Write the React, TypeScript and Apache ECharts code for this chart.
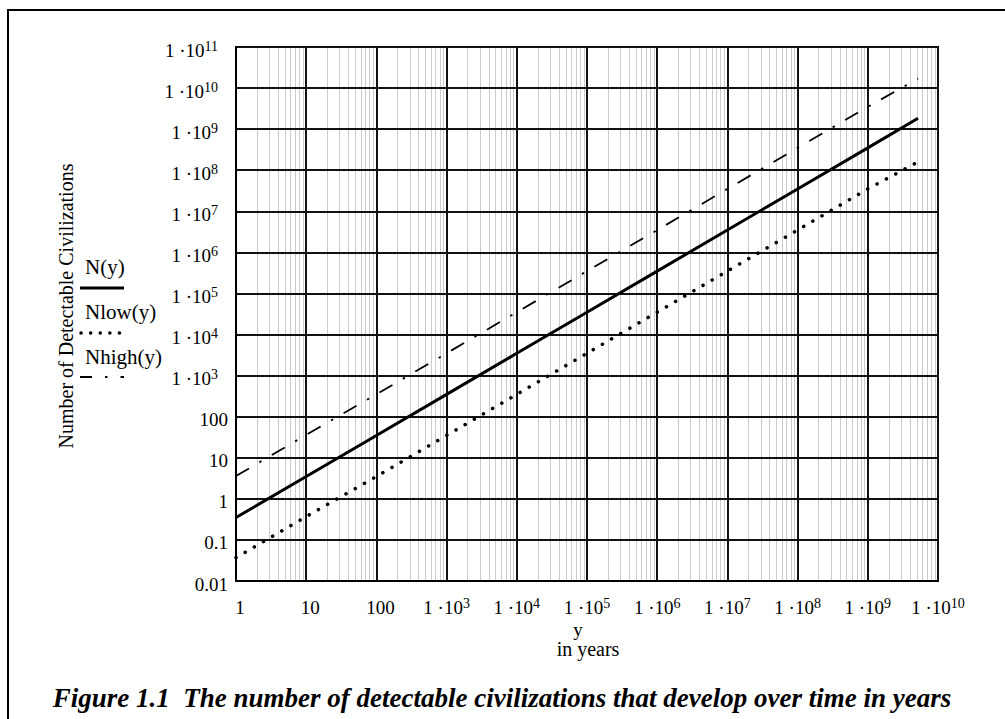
import React, { useEffect, useRef } from "react";
import * as echarts from "echarts";

// ---- data ----
const years = [1, 10, 100, 1e3, 1e4, 1e5, 1e6, 1e7, 1e8, 1e9, 5.2e9];
const nMid = [0.35, 3.5, 35, 350, 3.5e3, 3.5e4, 3.5e5, 3.5e6, 3.5e7, 3.5e8, 1.85e9];
const nLow = [0.037, 0.37, 3.5, 35, 350, 3.5e3, 3.5e4, 3.5e5, 3.5e6, 3.5e7, 1.6e8];
const nHigh = [3.6, 36, 350, 3.5e3, 3.5e4, 3.5e5, 3.5e6, 3.5e7, 3.5e8, 3.5e9, 1.7e10];

const xTickLabels = ["1", "10", "100", "1 ·10^3", "1 ·10^4", "1 ·10^5", "1 ·10^6", "1 ·10^7", "1 ·10^8", "1 ·10^9", "1 ·10^10"];
const yTickLabels = ["0.01", "0.1", "1", "10", "100", "1 ·10^3", "1 ·10^4", "1 ·10^5", "1 ·10^6", "1 ·10^7", "1 ·10^8", "1 ·10^9", "1 ·10^10", "1 ·10^11"];

const seriesNames = ["N(y)", "Nlow(y)", "Nhigh(y)"];
const yTitle = "Number of Detectable Civilizations";
const xTitle = "y";
const xSubTitle = "in years";
const caption = "Figure 1.1  The number of detectable civilizations that develop over time in years";

const FONT = "'Liberation Serif', 'Times New Roman', serif";

function pair(xs: number[], ys: number[]) {
  return xs.map((x, i) => [x, ys[i]]);
}

function labelFor(list: string[], idx: number, b: string, p: string, s: string) {
  const t = list[idx];
  if (t === undefined) return "";
  const parts = t.split("^");
  if (parts.length === 1) return `{${p}|${parts[0]}}`;
  return `{${b}|${parts[0]}}{${s}|${parts[1]}}`;
}

// minor grid positions (2..9 within each decade of the x axis)
const minorX: number[] = [];
for (let d = 0; d < 10; d++) {
  for (let m = 2; m <= 9; m++) minorX.push(m * Math.pow(10, d));
}

export default function App() {
  const ref = useRef<HTMLDivElement>(null);
  useEffect(() => {
    if (!ref.current) return;
    const chart = echarts.init(ref.current, null, { renderer: "svg" });
    const baseRich = {
      fontFamily: FONT,
      fontSize: 19,
      color: "#000",
      lineHeight: 18,
      height: 18,
      verticalAlign: "bottom",
    };
    const supRich = {
      fontFamily: FONT,
      fontSize: 14,
      color: "#000",
      lineHeight: 10,
      height: 10,
      verticalAlign: "top",
    };
    const option: any = {
      animation: false,
      backgroundColor: "#fff",
      grid: {
        left: 236,
        top: 47,
        width: 702,
        height: 534,
        show: true,
        borderColor: "#000",
        borderWidth: 2,
        backgroundColor: "transparent",
      },
      xAxis: {
        type: "log",
        logBase: 10,
        min: 1,
        max: 1e10,
        interval: 1,
        splitNumber: 10,
        z: 3,
        axisLine: { show: true, lineStyle: { color: "#000", width: 2 } },
        axisTick: { show: false },
        splitLine: { show: true, lineStyle: { color: "#111", width: 2 } },
        axisLabel: {
          margin: 17,
          fontFamily: FONT,
          fontSize: 19,
          color: "#000",
          formatter: (v: number) => labelFor(xTickLabels, Math.round(Math.log10(v)), "xb", "xp", "xs"),
          rich: {
            xb: { ...baseRich },
            xp: { ...baseRich, padding: [0, 0, 0, 8] },
            xs: { ...supRich },
          },
        },
      },
      yAxis: {
        type: "log",
        logBase: 10,
        min: 0.01,
        max: 1e11,
        interval: 1,
        splitNumber: 13,
        z: 3,
        axisLine: { show: true, lineStyle: { color: "#000", width: 2 } },
        axisTick: { show: false },
        splitLine: { show: true, lineStyle: { color: "#111", width: 2 } },
        axisLabel: {
          margin: 8,
          padding: [6, 0, 0, 0],
          fontFamily: FONT,
          fontSize: 19,
          color: "#000",
          formatter: (v: number) => labelFor(yTickLabels, Math.round(Math.log10(v)) + 2, "yb", "yp", "ys"),
          rich: {
            yb: { ...baseRich },
            yp: { ...baseRich },
            ys: { ...supRich, padding: [0, 10, 0, 0] },
          },
        },
      },
      series: [
        {
          type: "line",
          name: "minor",
          z: 1,
          silent: true,
          data: [[1, 0.01]],
          showSymbol: false,
          symbol: "none",
          lineStyle: { opacity: 0 },
          markLine: {
            z: 1,
            silent: true,
            animation: false,
            symbol: ["none", "none"],
            label: { show: false },
            lineStyle: { color: "#cccccc", width: 1, type: "solid" },
            emphasis: { disabled: true },
            data: minorX.map((v) => ({ xAxis: v })),
          },
        },
        {
          type: "line",
          name: seriesNames[0],
          z: 5,
          data: pair(years, nMid),
          symbol: "none",
          showSymbol: false,
          lineStyle: { color: "#000", width: 3 },
        },
        {
          type: "line",
          name: seriesNames[1],
          z: 5,
          data: pair(years, nLow),
          symbol: "none",
          showSymbol: false,
          lineStyle: { color: "#000", width: 3.5, type: [0.1, 10.5], cap: "round" },
        },
        {
          type: "line",
          name: seriesNames[2],
          z: 5,
          data: pair(years, nHigh),
          symbol: "none",
          showSymbol: false,
          lineStyle: { color: "#000", width: 1.8, type: [15, 12, 2.5, 12] },
        },
      ],
      graphic: [
        {
          type: "rect",
          z: 0,
          silent: true,
          shape: { x: 8, y: 10, width: 1010, height: 720 },
          style: { fill: "none", stroke: "#000", lineWidth: 2 },
        },
        {
          type: "text",
          x: 66,
          y: 306,
          rotation: Math.PI / 2,
          style: { text: yTitle, fontFamily: FONT, fontSize: 20, fill: "#000", align: "center", verticalAlign: "middle" },
        },
        {
          type: "text",
          x: 85,
          y: 267,
          style: { text: seriesNames[0], fontFamily: FONT, fontSize: 21, fill: "#000", align: "left", verticalAlign: "middle" },
        },
        {
          type: "line",
          shape: { x1: 80, y1: 288, x2: 124, y2: 288 },
          style: { stroke: "#000", lineWidth: 3 },
        },
        {
          type: "text",
          x: 85,
          y: 312,
          style: { text: seriesNames[1], fontFamily: FONT, fontSize: 21, fill: "#000", align: "left", verticalAlign: "middle" },
        },
        {
          type: "line",
          shape: { x1: 81, y1: 333, x2: 124, y2: 333 },
          style: { stroke: "#000", lineWidth: 3.5, lineDash: [0.1, 9.5], lineCap: "round" },
        },
        {
          type: "text",
          x: 85,
          y: 357,
          style: { text: seriesNames[2], fontFamily: FONT, fontSize: 21, fill: "#000", align: "left", verticalAlign: "middle" },
        },
        {
          type: "line",
          shape: { x1: 80, y1: 377, x2: 124, y2: 377 },
          style: { stroke: "#000", lineWidth: 1.8, lineDash: [12, 13, 2.5, 13] },
        },
        {
          type: "text",
          x: 578,
          y: 629,
          style: { text: xTitle, fontFamily: FONT, fontSize: 19, lineHeight: 15, fill: "#000", align: "center", verticalAlign: "middle" },
        },
        {
          type: "text",
          x: 588,
          y: 649,
          style: { text: xSubTitle, fontFamily: FONT, fontSize: 20, lineHeight: 16, fill: "#000", align: "center", verticalAlign: "middle" },
        },
        {
          type: "text",
          x: 502,
          y: 698,
          style: {
            text: caption,
            fontFamily: FONT,
            fontSize: 27,
            fontWeight: "bold",
            fontStyle: "italic",
            fill: "#000",
            align: "center",
            verticalAlign: "middle",
          },
        },
      ],
    };
    chart.setOption(option);
    return () => chart.dispose();
  }, []);
  return (
    <div
      ref={ref}
      style={{ position: "absolute", left: 0, top: 0, width: 1005, height: 719, background: "#fff" }}
    />
  );
}
